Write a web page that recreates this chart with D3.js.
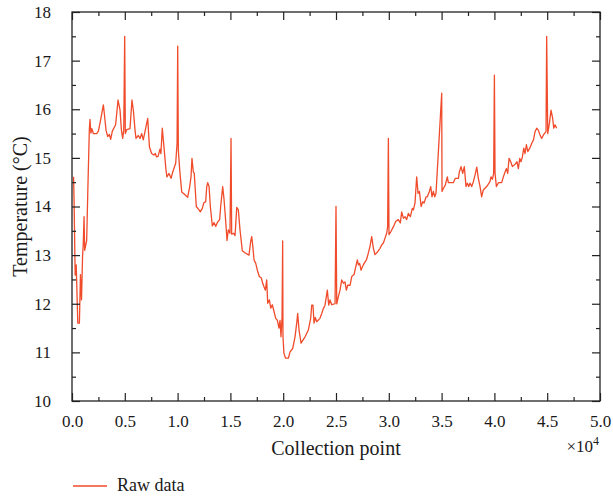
<!DOCTYPE html>
<html>
<head>
<meta charset="utf-8">
<script src="https://cdn.jsdelivr.net/npm/d3@7/dist/d3.min.js"></script>
<style>
  body { margin: 0; background: #fff; }
  svg text { font-family: "Liberation Serif", "DejaVu Serif", serif; fill: #1a1a1a; }
  .tick line { stroke: #222; stroke-width: 1.2; }
</style>
</head>
<body>
<div id="chart"></div>
<script>
// collection point index
var pointIdx = [150, 200, 300, 400, 550, 700, 800, 900, 1000, 1070, 1140, 1200, 1390, 1500, 1640, 1700, 1790, 1880, 2020, 2340,
  2500, 2710, 2970, 3090, 3220, 3380, 3540, 3660, 3820, 4130, 4360, 4550, 4680, 4800, 4900, 4990, 5050, 5180, 5490, 5680,
  5810, 5970, 6060, 6280, 6440, 6600, 6750, 6940, 7170, 7330, 7540, 7760, 7890, 8010, 8150, 8330, 8420, 8550, 8710, 8900,
  8990, 9190, 9380, 9540, 9820, 9950, 10010, 10070, 10200, 10390, 10700, 10950, 11140, 11270, 11360, 11490, 11580, 11770, 12030, 12150,
  12340, 12470, 12660, 12760, 12850, 12980, 13100, 13290, 13450, 13610, 13760, 13980, 14080, 14270, 14400, 14520, 14680, 14800, 14960, 15060,
  15120, 15310, 15440, 15600, 15750, 15910, 16130, 16380, 16760, 16920, 17020, 17110, 17240, 17400, 17550, 17740, 17930, 18060, 18180, 18310,
  18440, 18530, 18690, 18820, 18970, 19130, 19290, 19450, 19600, 19700, 19790, 19890, 19950, 19980, 20070, 20230, 20490, 20650, 20900, 21120,
  21280, 21370, 21500, 21690, 22070, 22380, 22600, 22700, 22820, 22920, 23040, 23170, 23480, 23650, 23800, 23960, 24180, 24310, 24430, 24590,
  24910, 25000, 25070, 25220, 25380, 25540, 25700, 25850, 25980, 26110, 26330, 26490, 26710, 26870, 27020, 27120, 27240, 27370, 27500, 27690,
  27880, 28060, 28220, 28380, 28540, 28690, 28950, 29170, 29330, 29490, 29640, 29800, 29890, 29960, 30020, 30210, 30430, 30650, 30900, 31090,
  31220, 31380, 31540, 31690, 31850, 32040, 32230, 32330, 32480, 32640, 32770, 32900, 33060, 33220, 33340, 33530, 33650, 33840, 33970, 34090,
  34220, 34350, 34470, 35010, 35040, 35160, 35350, 35540, 35640, 35800, 36110, 36300, 36590, 36680, 36840, 37000, 37150, 37310, 37440, 37570,
  37690, 37850, 38010, 38170, 38330, 38480, 38640, 38790, 38950, 39270, 39580, 39680, 39810, 39930, 40000, 40060, 40190, 40380, 40690, 40850,
  41010, 41140, 41260, 41390, 41550, 41700, 41960, 42140, 42270, 42400, 42520, 42650, 42780, 42900, 43030, 43160, 43350, 43540, 43700, 43850,
  44010, 44160, 44320, 44480, 44640, 44730, 44890, 44950, 45050, 45210, 45360, 45520, 45620, 45740, 45900];

// raw temperature (°C)
var tempRaw = [14.61, 14.07, 12.59, 12.8, 11.6, 11.6, 12.6, 12.08, 12.97, 13.25, 13.79, 13.1, 13.3, 14.34, 15.57, 15.79, 15.51, 15.6, 15.5, 15.5,
  15.55, 15.78, 16.09, 15.85, 15.57, 15.44, 15.48, 15.38, 15.55, 15.68, 16.19, 15.98, 15.57, 15.4, 15.57, 17.5, 15.5, 15.58, 15.6, 16.19,
  15.98, 15.57, 15.4, 15.46, 15.4, 15.5, 15.37, 15.57, 15.81, 15.23, 15.09, 15.06, 15.09, 15.02, 15.03, 15.18, 15.09, 15.61, 15.22, 14.75,
  14.61, 14.68, 14.58, 14.71, 14.89, 15.3, 17.3, 15.16, 14.75, 14.3, 14.24, 14.19, 14.4, 14.61, 14.99, 14.71, 14.68, 14.0, 13.93, 13.89,
  13.96, 14.07, 14.1, 14.41, 14.49, 14.41, 14.0, 13.6, 13.67, 13.59, 13.67, 13.73, 14.0, 14.41, 14.14, 13.8, 13.3, 13.52, 13.45, 15.4,
  13.43, 13.45, 13.4, 13.98, 13.93, 13.52, 13.09, 13.05, 13.0, 13.28, 13.38, 13.21, 12.9, 12.83, 12.69, 12.56, 12.53, 12.42, 12.35, 12.28,
  12.49, 12.01, 12.08, 11.91, 11.98, 11.84, 11.7, 11.66, 11.5, 11.66, 11.32, 11.72, 13.29, 11.32, 10.98, 10.88, 10.88, 11.01, 11.08, 11.32,
  11.6, 11.8, 11.46, 11.19, 11.32, 11.46, 11.7, 11.97, 11.97, 11.6, 11.72, 11.63, 11.7, 11.8, 11.9, 11.97, 12.28, 11.97, 12.08, 11.98,
  12.0, 14.0, 12.0, 12.14, 12.28, 12.49, 12.42, 12.45, 12.28, 12.38, 12.38, 12.56, 12.6, 12.76, 12.9, 12.8, 12.83, 12.69, 12.76, 12.84,
  12.9, 13.04, 13.18, 13.38, 13.14, 13.01, 13.07, 13.14, 13.21, 13.25, 13.35, 13.45, 13.58, 15.4, 13.42, 13.49, 13.58, 13.69, 13.73, 13.66,
  13.89, 13.76, 13.79, 13.73, 13.86, 13.79, 13.96, 13.93, 14.07, 14.61, 14.27, 14.31, 14.0, 14.1, 14.07, 14.2, 14.2, 14.31, 14.41, 14.2,
  14.31, 14.2, 14.27, 16.33, 14.31, 14.37, 14.44, 14.61, 14.49, 14.49, 14.49, 14.58, 14.58, 14.71, 14.82, 14.68, 14.82, 14.41, 14.48, 14.41,
  14.48, 14.41, 14.51, 14.65, 14.81, 14.58, 14.41, 14.2, 14.34, 14.41, 14.51, 14.61, 14.56, 14.68, 16.7, 14.68, 14.41, 14.49, 14.49, 14.61,
  14.71, 14.78, 14.68, 14.99, 14.92, 14.82, 14.87, 14.92, 14.78, 14.99, 14.92, 15.02, 15.2, 15.09, 15.27, 15.13, 15.2, 15.3, 15.37, 15.54,
  15.61, 15.57, 15.47, 15.4, 15.47, 15.5, 15.54, 17.5, 15.5, 15.71, 15.98, 15.81, 15.61, 15.68, 15.61];

var xTickVals = [0, 5000, 10000, 15000, 20000, 25000, 30000, 35000, 40000, 45000, 50000];
var xTickLabels = ['0.0', '0.5', '1.0', '1.5', '2.0', '2.5', '3.0', '3.5', '4.0', '4.5', '5.0'];
var xMinorVals = [2500, 7500, 12500, 17500, 22500, 27500, 32500, 37500, 42500, 47500];
var yTickVals = [10, 11, 12, 13, 14, 15, 16, 17, 18];
var yMinorVals = [10.5, 11.5, 12.5, 13.5, 14.5, 15.5, 16.5, 17.5];

var cfg = {
    w: 613, h: 498,
    left: 72, right: 600, top: 12, bottom: 401,
    color: '#f04b2b'
};

var data = pointIdx.map(function(d, i) { return { x: d, t: tempRaw[i] }; });

var svg = d3.select('#chart').append('svg')
    .attr('width', cfg.w)
    .attr('height', cfg.h);

var x = d3.scaleLinear().domain([0, 50000]).range([cfg.left, cfg.right]);
var y = d3.scaleLinear().domain([10, 18]).range([cfg.bottom, cfg.top]);

// line first, frame on top
var line = d3.line()
    .x(function(d) { return x(d.x); })
    .y(function(d) { return y(d.t); });

svg.append('path')
    .datum(data)
    .attr('fill', 'none')
    .attr('stroke', cfg.color)
    .attr('stroke-width', 1.3)
    .attr('stroke-linejoin', 'round')
    .attr('d', line);

function cleanAxis(g, showText) {
    g.select('.domain').remove();
    if (!showText) g.selectAll('.tick text').remove();
    g.selectAll('.tick text').style('font-size', '17px');
}

// x axes (bottom with labels, top without), ticks pointing inside
svg.append('g').attr('transform', 'translate(0,' + cfg.bottom + ')')
    .call(d3.axisBottom(x).tickValues(xTickVals).tickSize(-8).tickPadding(14)
        .tickFormat(function(d, i) { return xTickLabels[i]; }))
    .call(cleanAxis, true);
svg.append('g').attr('transform', 'translate(0,' + cfg.bottom + ')')
    .call(d3.axisBottom(x).tickValues(xMinorVals).tickSize(-4))
    .call(cleanAxis, false);
svg.append('g').attr('transform', 'translate(0,' + cfg.top + ')')
    .call(d3.axisTop(x).tickValues(xTickVals).tickSize(-8))
    .call(cleanAxis, false);
svg.append('g').attr('transform', 'translate(0,' + cfg.top + ')')
    .call(d3.axisTop(x).tickValues(xMinorVals).tickSize(-4))
    .call(cleanAxis, false);

// y axes
svg.append('g').attr('transform', 'translate(' + cfg.left + ',0)')
    .call(d3.axisLeft(y).tickValues(yTickVals).tickSize(-8).tickPadding(21)
        .tickFormat(d3.format('d')))
    .call(cleanAxis, true);
svg.append('g').attr('transform', 'translate(' + cfg.left + ',0)')
    .call(d3.axisLeft(y).tickValues(yMinorVals).tickSize(-4))
    .call(cleanAxis, false);
svg.append('g').attr('transform', 'translate(' + cfg.right + ',0)')
    .call(d3.axisRight(y).tickValues(yTickVals).tickSize(-8))
    .call(cleanAxis, false);
svg.append('g').attr('transform', 'translate(' + cfg.right + ',0)')
    .call(d3.axisRight(y).tickValues(yMinorVals).tickSize(-4))
    .call(cleanAxis, false);

// frame
svg.append('rect')
    .attr('x', cfg.left).attr('y', cfg.top)
    .attr('width', cfg.right - cfg.left)
    .attr('height', cfg.bottom - cfg.top)
    .attr('fill', 'none')
    .attr('stroke', '#222')
    .attr('stroke-width', 1.3);

// titles
svg.append('text')
    .attr('x', (cfg.left + cfg.right) / 2)
    .attr('y', 455)
    .attr('text-anchor', 'middle')
    .style('font-size', '20px')
    .text('Collection point');

var mult = svg.append('text')
    .attr('x', 599)
    .attr('y', 452)
    .attr('text-anchor', 'end')
    .style('font-size', '17px');
mult.append('tspan').text('×10');
mult.append('tspan').attr('dy', -7).style('font-size', '12px').text('4');

svg.append('text')
    .attr('transform', 'translate(27,' + ((cfg.top + cfg.bottom) / 2) + ') rotate(-90)')
    .attr('text-anchor', 'middle')
    .style('font-size', '20px')
    .text('Temperature (°C)');

// legend
var legend = svg.append('g').attr('transform', 'translate(73,486)');
legend.append('line')
    .attr('x1', 0).attr('x2', 34)
    .attr('y1', 0).attr('y2', 0)
    .attr('stroke', cfg.color)
    .attr('stroke-width', 1.3);
legend.append('text')
    .attr('x', 44).attr('y', 5)
    .style('font-size', '18px')
    .text('Raw data');
</script>
</body>
</html>
